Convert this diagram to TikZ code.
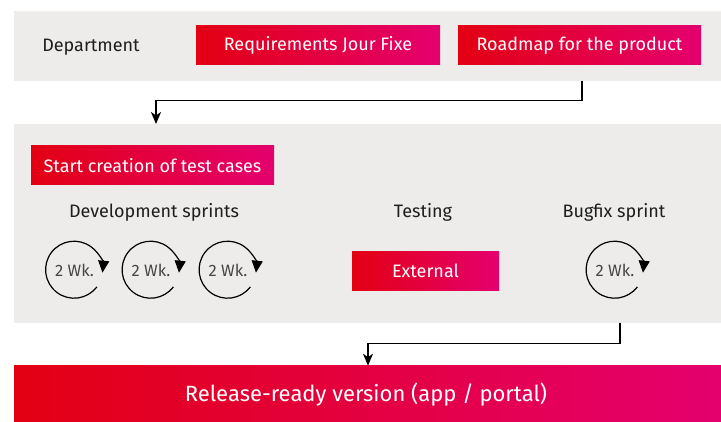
\documentclass[tikz,border=0pt]{standalone}
\usepackage{fontspec}
\setmainfont{Fira Sans}
\usetikzlibrary{arrows.meta}

\definecolor{bandgray}{RGB}{237,236,234}
\definecolor{redL}{RGB}{227,0,19}
\definecolor{magR}{RGB}{228,0,110}
\definecolor{inkdark}{RGB}{30,30,30}
\definecolor{inkgray}{RGB}{70,70,70}

\tikzset{
  band/.style={fill=bandgray, draw=none, inner sep=0pt, anchor=north west},
  redbox/.style={left color=redL, right color=magR, draw=none, text=white,
    inner sep=0pt, font=\fontsize{18}{21}\selectfont},
  heading/.style={text=inkdark, inner sep=0pt, font=\fontsize{18}{21}\selectfont},
  conn/.style={draw=black, line width=1.3pt,
    -{Stealth[length=12pt,width=10pt,inset=3.5pt]}},
  loopline/.style={draw=black, line width=1.2pt,
    -{Triangle[length=12pt,width=11pt]}},
  pics/sprintcycle/.style={code={
    \draw[loopline] (37:28) arc[start angle=37, end angle=366, radius=28.5];
    \node[text=inkgray, inner sep=0pt, font=\fontsize{16.5}{19}\selectfont] (-lbl) at (0,0) {2 Wk.};
  }}
}

\begin{document}
\begin{tikzpicture}[x=1pt, y=-1pt]
  \useasboundingbox (0,0) rectangle (721,421);

  % department band
  \node[band, minimum width=707pt, minimum height=69.7pt] (band1) at (14,11) {};
  \node[heading] (dept) at (91,47) {Department};
  \node[redbox, minimum width=244pt, minimum height=38.7pt] (req) at (318,45.3) {Requirements Jour Fixe};
  \node[redbox, minimum width=243pt, minimum height=38.7pt] (road) at (579.5,45.3) {Roadmap for the product};

  % development band
  \node[band, minimum width=707pt, minimum height=198.7pt] (band2) at (14,124) {};
  \node[redbox, minimum width=243pt, minimum height=38.7pt] (start) at (152.5,165.3) {Start creation of test cases};
  \node[heading] (dev) at (154,212) {Development sprints};
  \node[heading] (test) at (423,212) {Testing};
  \node[heading] (bug) at (614,212) {Bugfix sprint};
  \node[redbox, minimum width=147pt, minimum height=39pt] (ext) at (425.5,270.5) {External};

  \pic (s1) at (74.5,270) {sprintcycle};
  \pic (s2) at (151,270) {sprintcycle};
  \pic (s3) at (228,270) {sprintcycle};
  \pic (s4) at (615,270) {sprintcycle};

  % release band
  \node[redbox, anchor=north west, minimum width=707pt, minimum height=55.3pt] (rel) at (14,365.7) {};
  \node[text=white, inner sep=0pt, font=\fontsize{22}{26}\selectfont] (reltext) at (366,395) {Release-ready version (app / portal)};

  % connectors
  \coordinate (c1from) at (582,80.7);
  \coordinate (c1to) at (156,124);
  \draw[conn] (c1from) -- (582,100.3) -| (c1to);
  \coordinate (c2from) at (620,322.7);
  \coordinate (c2to) at (368,365.7);
  \draw[conn] (c2from) -- (620,343.3) -| (c2to);
\end{tikzpicture}
\end{document}
